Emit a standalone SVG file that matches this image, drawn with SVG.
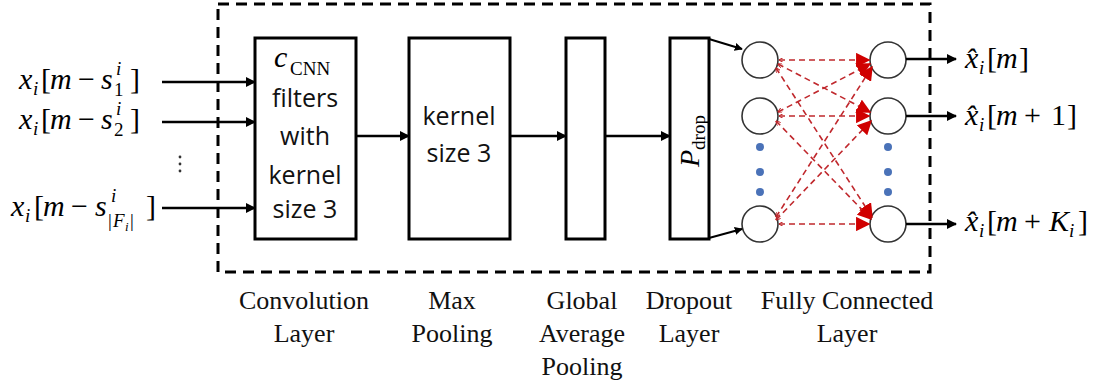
<svg xmlns="http://www.w3.org/2000/svg" width="1108" height="388" viewBox="0 0 1108 388">
  <style>
    .box { fill: #fff; stroke: #000; stroke-width: 3; }
    .frame { fill: none; stroke: #000; stroke-width: 3; stroke-dasharray: 11 7; }
    .arrow { stroke: #000; stroke-width: 2.5; fill: none; marker-end: url(#ah); }
    .fc { stroke: #c0282d; stroke-width: 1.6; stroke-dasharray: 6 4; fill: none; marker-end: url(#rh); marker-start: url(#rs); }
    .node { fill: #fff; stroke: #333; stroke-width: 1.6; }
    .dot { fill: #4a72b8; }
    .math { font-family: "Liberation Serif", "DejaVu Serif", serif; font-size: 30px; fill: #000; }
    .it { font-style: italic; }
    .sm { font-size: 19px; }
    .inbox { font-family: "Open Sans", "Liberation Sans", sans-serif; font-size: 25px; fill: #111; text-anchor: middle; }
    .cap { font-family: "Liberation Serif", "Times New Roman", serif; font-size: 26px; fill: #111; text-anchor: middle; }
  </style>
  <defs>
    <marker id="ah" viewBox="0 0 10 10" refX="9" refY="5" markerWidth="4" markerHeight="4" orient="auto" markerUnits="strokeWidth">
      <path d="M0,0 L10,5 L0,10 Z" fill="#000"/>
    </marker>
    <marker id="rh" viewBox="0 0 10 10" refX="9" refY="5" markerWidth="9" markerHeight="9" orient="auto" markerUnits="strokeWidth">
      <path d="M0,0 L10,5 L0,10 Z" fill="#d00000"/>
    </marker>
    <marker id="rs" viewBox="0 0 10 10" refX="1" refY="5" markerWidth="3" markerHeight="3" orient="auto" markerUnits="strokeWidth">
      <path d="M10,0 L0,5 L10,10" fill="none" stroke="#c0282d" stroke-width="2"/>
    </marker>
  </defs>

  <!-- dashed model boundary -->
  <rect class="frame" x="218" y="4" width="712" height="268"/>

  <!-- input labels -->
  <g id="input-1">
    <text class="math"><tspan class="it" x="19" y="89">x</tspan><tspan class="it sm" x="33" y="95">i</tspan><tspan x="41" y="89">[</tspan><tspan class="it" x="50" y="89">m</tspan><tspan x="78" y="89">−</tspan><tspan class="it" x="101" y="89">s</tspan><tspan class="it sm" x="116" y="75">i</tspan><tspan class="sm" x="114" y="96">1</tspan><tspan x="130" y="89">]</tspan></text>
  </g>
  <g id="input-2">
    <text class="math"><tspan class="it" x="19" y="129">x</tspan><tspan class="it sm" x="33" y="135">i</tspan><tspan x="41" y="129">[</tspan><tspan class="it" x="50" y="129">m</tspan><tspan x="78" y="129">−</tspan><tspan class="it" x="101" y="129">s</tspan><tspan class="it sm" x="116" y="115">i</tspan><tspan class="sm" x="114" y="136">2</tspan><tspan x="130" y="129">]</tspan></text>
  </g>
  <g id="input-dots">
    <circle cx="180" cy="157" r="1.4" fill="#333"/>
    <circle cx="180" cy="164" r="1.4" fill="#333"/>
    <circle cx="180" cy="171" r="1.4" fill="#333"/>
  </g>
  <g id="input-n">
    <text class="math"><tspan class="it" x="11" y="216">x</tspan><tspan class="it sm" x="25" y="222">i</tspan><tspan x="34" y="216">[</tspan><tspan class="it" x="43" y="216">m</tspan><tspan x="71" y="216">−</tspan><tspan class="it" x="95" y="216">s</tspan><tspan class="it sm" x="111" y="202">i</tspan><tspan class="sm" x="108" y="227">|</tspan><tspan class="it sm" x="113" y="227">F</tspan><tspan class="it" style="font-size:13px" x="125" y="231">i</tspan><tspan class="sm" x="130" y="227">|</tspan><tspan x="146" y="216">]</tspan></text>
  </g>

  <!-- convolution layer -->
  <g id="conv">
    <rect class="box" x="255" y="38" width="101" height="201"/>
    <text class="math"><tspan class="it" x="274" y="67">c</tspan><tspan style="font-size:19px" x="290" y="75">CNN</tspan></text>
    <text class="inbox" x="305" y="107">filters</text>
    <text class="inbox" x="305" y="145">with</text>
    <text class="inbox" x="305" y="184">kernel</text>
    <text class="inbox" x="305" y="218">size 3</text>
  </g>

  <!-- max pooling -->
  <g id="maxpool">
    <rect class="box" x="409" y="38" width="101" height="201"/>
    <text class="inbox" x="459" y="125">kernel</text>
    <text class="inbox" x="459" y="162">size 3</text>
  </g>

  <!-- global average pooling -->
  <g id="gap">
    <rect class="box" x="566" y="38" width="39" height="201"/>
  </g>

  <!-- dropout -->
  <g id="dropout">
    <rect class="box" x="670" y="38" width="39" height="201"/>
    <text class="math" style="font-size:28px" transform="translate(699,167) rotate(-90)"><tspan class="it">P</tspan><tspan style="font-size:19px" dy="6">drop</tspan></text>
  </g>

  <!-- fully connected layer: input column -->
  <g id="fc-in-1"><circle class="node" cx="760" cy="60" r="18"/></g>
  <g id="fc-in-2"><circle class="node" cx="760" cy="116" r="18"/></g>
  <g id="fc-in-n"><circle class="node" cx="760" cy="224" r="18"/></g>
  <g id="fc-in-dots">
    <circle class="dot" cx="760" cy="147" r="4"/>
    <circle class="dot" cx="760" cy="172" r="4"/>
    <circle class="dot" cx="760" cy="192" r="4"/>
  </g>

  <!-- fully connected layer: output column -->
  <g id="fc-out-1"><circle class="node" cx="888" cy="60" r="18"/></g>
  <g id="fc-out-2"><circle class="node" cx="888" cy="116" r="18"/></g>
  <g id="fc-out-n"><circle class="node" cx="888" cy="224" r="18"/></g>
  <g id="fc-out-dots">
    <circle class="dot" cx="888" cy="147" r="4"/>
    <circle class="dot" cx="888" cy="172" r="4"/>
    <circle class="dot" cx="888" cy="192" r="4"/>
  </g>

  <!-- output labels -->
  <g id="output-1">
    <text class="math"><tspan class="it" x="965" y="68">x̂</tspan><tspan class="it sm" x="979" y="74">i</tspan><tspan x="987" y="68">[</tspan><tspan class="it" x="996" y="68">m</tspan><tspan x="1019" y="68">]</tspan></text>
  </g>
  <g id="output-2">
    <text class="math"><tspan class="it" x="965" y="125">x̂</tspan><tspan class="it sm" x="979" y="131">i</tspan><tspan x="987" y="125">[</tspan><tspan class="it" x="996" y="125">m</tspan><tspan x="1024" y="125">+</tspan><tspan x="1051" y="125">1</tspan><tspan x="1067" y="125">]</tspan></text>
  </g>
  <g id="output-n">
    <text class="math"><tspan class="it" x="965" y="231">x̂</tspan><tspan class="it sm" x="979" y="237">i</tspan><tspan x="987" y="231">[</tspan><tspan class="it" x="996" y="231">m</tspan><tspan x="1024" y="231">+</tspan><tspan class="it" x="1049" y="231">K</tspan><tspan class="it sm" x="1069" y="237">i</tspan><tspan x="1078" y="231">]</tspan></text>
  </g>

  <!-- layer captions -->
  <g id="captions">
    <text class="cap" x="304" y="309">Convolution</text>
    <text class="cap" x="304" y="342">Layer</text>
    <text class="cap" x="452" y="309">Max</text>
    <text class="cap" x="452" y="342">Pooling</text>
    <text class="cap" x="582" y="309">Global</text>
    <text class="cap" x="582" y="342">Average</text>
    <text class="cap" x="582" y="375">Pooling</text>
    <text class="cap" x="689" y="309">Dropout</text>
    <text class="cap" x="689" y="342">Layer</text>
    <text class="cap" x="847" y="309">Fully Connected</text>
    <text class="cap" x="847" y="342">Layer</text>
  </g>

  <!-- connectors -->
  <g id="connectors">
    <line class="arrow" x1="162" y1="82" x2="255" y2="82"/>
    <line class="arrow" x1="162" y1="122" x2="255" y2="122"/>
    <line class="arrow" x1="162" y1="208" x2="255" y2="208"/>
    <line class="arrow" x1="356" y1="136" x2="409" y2="136"/>
    <line class="arrow" x1="510" y1="136" x2="566" y2="136"/>
    <line class="arrow" x1="605" y1="136" x2="670" y2="136"/>
    <line class="arrow" x1="709" y1="39" x2="742" y2="49" style="stroke-width:2"/>
    <line class="arrow" x1="709" y1="238" x2="742" y2="229" style="stroke-width:2"/>
    <line class="arrow" x1="906" y1="59" x2="956" y2="59"/>
    <line class="arrow" x1="906" y1="116" x2="956" y2="116"/>
    <line class="arrow" x1="906" y1="224" x2="956" y2="224"/>
    <!-- dense connections between the two columns -->
    <line class="fc" x1="779" y1="60" x2="869" y2="60"/>
    <line class="fc" x1="778" y1="64" x2="870" y2="112"/>
    <line class="fc" x1="776" y1="68" x2="872" y2="217"/>
    <line class="fc" x1="778" y1="112" x2="870" y2="64"/>
    <line class="fc" x1="779" y1="116" x2="869" y2="116"/>
    <line class="fc" x1="776" y1="121" x2="871" y2="219"/>
    <line class="fc" x1="776" y1="217" x2="872" y2="67"/>
    <line class="fc" x1="776" y1="220" x2="871" y2="121"/>
    <line class="fc" x1="779" y1="224" x2="869" y2="224"/>
  </g>
</svg>
